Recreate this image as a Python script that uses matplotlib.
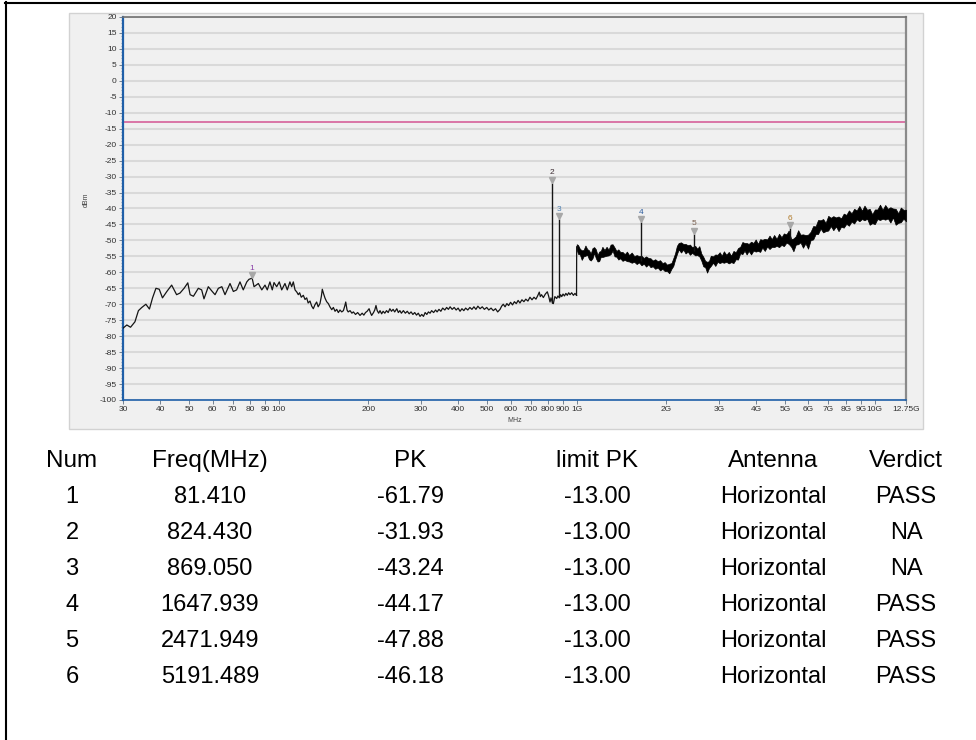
import matplotlib
matplotlib.use("Agg")
import matplotlib.pyplot as plt
import matplotlib.transforms as mtransforms
from matplotlib.patches import Rectangle
from matplotlib.lines import Line2D
from matplotlib.ticker import FixedLocator, NullLocator, MultipleLocator

plt.rcParams["axes.unicode_minus"] = False

# ---- trace readings (MHz, dBm), 30 MHz .. 1 GHz ----
low_freq = [30, 30.9, 31.8, 32.9, 33.8, 34.7, 35.8, 36.8, 37.7, 38.7, 39.7, 40.7,
            42.1, 43.7, 45.4, 46.6, 48.1, 49.5, 50.4, 51.7, 53.7, 55.1, 56.1, 58.0,
            59.8, 61.1, 62.7, 64.4, 66.0, 68.6, 70.4, 72.2, 74.1, 76.0, 78.1, 79.4,
            81.4, 82.6, 85.4, 87.7, 89.9, 91.5, 93.4, 95.1, 96.4, 98.4, 100.4, 102.3,
            104.9, 106.8, 109, 110.5, 111.9, 113.4, 115, 116.3, 117.5, 119, 120.9, 122.5,
            124.1, 125.5, 127.3, 129, 130.6, 132.2, 134, 135.6, 137.5, 139, 140, 141.5,
            143, 144.8, 146.7, 148.5, 150.6, 152.5, 154.5, 156.5, 158.5, 160.5, 162.7, 164.8,
            166.5, 167.8, 169.5, 171, 173.5, 176, 178, 181, 184, 187.4, 190.5, 193,
            195.5, 198, 201, 203, 205, 208, 210, 212, 214, 216.5, 218.7, 221.5,
            224, 227, 230, 233, 236, 239, 242, 245, 249, 252, 255, 258,
            262, 266, 270, 274, 278, 282, 286, 290, 294, 298, 302, 306,
            310, 314, 318, 322, 326, 331, 336, 340, 345, 350, 355, 361,
            366, 371, 376, 382, 388, 394, 400, 406, 412, 418, 424, 431,
            438, 445, 452, 459, 466, 474, 482, 490, 499, 507, 516, 525,
            534, 543, 553, 560, 567, 575, 583, 591, 600, 609, 618, 627,
            636, 645, 655, 665, 675, 686, 697, 708, 719, 730, 741, 749,
            755, 762, 773, 785, 797, 805, 814, 820, 830, 835, 845, 857,
            865, 875, 883, 891, 900, 910, 920, 930, 940, 950, 962, 975, 987, 999]
low_level = [-77.5, -76.5, -77.2, -75.5, -72, -71, -70, -71.5, -68, -65, -65.3, -68,
             -66, -64, -67, -66.5, -65, -63.3, -67, -67.5, -65, -65.5, -68.3, -64.5,
             -66, -67, -65, -64.5, -67, -63.5, -66, -65.5, -63, -65.5, -63, -62.2,
             -61.8, -64.5, -63.5, -65.5, -64, -65.5, -63, -65.5, -63.2, -64.5, -63, -65.5,
             -63.5, -65.5, -63, -64.5, -63, -65.5, -66.2, -67, -66.4, -67.8, -67.2, -68.5,
             -68.0, -69.6, -69.0, -70.6, -71.4, -70.2, -69.3, -70.8, -69.8, -67.5, -65.3, -66.8,
             -68.1, -69.2, -69.8, -70.8, -71.7, -71.0, -72.2, -71.6, -72.6, -71.8, -72.4, -72.0,
             -70.6, -69.3, -71.8, -72.4, -72.0, -72.8, -72.4, -73.2, -72.6, -73.5, -72.8, -73.4,
             -72.6, -72.2, -71.4, -72.6, -73.5, -72.6, -71.8, -70.4, -72.0, -72.8, -72.0, -73.0,
             -72.2, -72.8, -72.0, -72.6, -71.4, -72.2, -71.6, -72.4, -71.4, -72.6, -72.0, -72.8,
             -72.0, -72.8, -72.2, -73.0, -72.4, -73.2, -72.6, -73.4, -72.8, -73.8, -73.2, -73.8,
             -72.6, -73.2, -72.4, -72.8, -72.0, -72.6, -71.8, -72.4, -71.6, -72.2, -71.2, -71.8,
             -71.0, -71.6, -70.8, -71.6, -71.0, -71.8, -71.2, -72.2, -71.4, -72.0, -71.2, -71.8,
             -71.0, -71.6, -70.8, -71.6, -70.6, -71.4, -70.8, -71.6, -71.0, -71.8, -71.2, -72.0,
             -71.4, -72.4, -71.6, -70.6, -70.0, -70.8, -69.8, -70.4, -69.4, -70.2, -69.2, -69.8,
             -68.8, -69.6, -68.6, -69.2, -68.4, -69.0, -67.8, -68.6, -67.8, -68.4, -67.2, -66.2,
             -67.6, -67.0, -67.9, -66.8, -66.1, -67.4, -69.3, -68.0, -69.6, -69.8, -67.6, -68.2,
             -67.4, -68.0, -67.0, -67.6, -66.8, -67.4, -66.6, -67.2, -66.4, -67.0, -66.4, -67.2, -66.6, -67.2]

# ---- trace readings above 1 GHz: centre of the noise band and its half width ----
high_freq = [1000, 1010, 1025, 1040, 1055, 1070, 1085, 1100, 1115, 1130, 1145, 1160,
             1175, 1190, 1205, 1220, 1240, 1260, 1280, 1300, 1320, 1340, 1360, 1380,
             1400, 1425, 1450, 1475, 1500, 1530, 1560, 1590, 1620, 1650, 1680, 1710,
             1740, 1770, 1800, 1835, 1870, 1905, 1940, 1975, 2010, 2045, 2080, 2110,
             2140, 2170, 2200, 2240, 2280, 2320, 2360, 2400, 2440, 2500, 2540, 2580,
             2620, 2660, 2700, 2740, 2780, 2820, 2870, 2920, 2970, 3020, 3070, 3120,
             3180, 3240, 3300, 3360, 3420, 3480, 3540, 3600, 3660, 3720, 3780, 3850,
             3920, 3990, 4060, 4130, 4200, 4280, 4360, 4440, 4520, 4600, 4690, 4780,
             4870, 4960, 5060, 5150, 5250, 5340, 5440, 5540, 5640, 5750, 5860, 5980,
             6100, 6220, 6340, 6460, 6590, 6720, 6850, 6990, 7130, 7270, 7420, 7570,
             7720, 7880, 8040, 8200, 8370, 8540, 8710, 8890, 9070, 9250, 9440, 9630,
             9820, 10020, 10220, 10430, 10640, 10860, 11080, 11300, 11530, 11770, 12010, 12250,
             12500, 12750]
high_level = [-52.0, -52.8, -53.5, -54.6, -54.0, -53.2, -53.6, -54.5, -55.2, -54.0, -53.0, -54.2,
              -55.6, -55.0, -54.2, -53.6, -54.0, -53.4, -53.8, -52.8, -52.2, -53.6, -54.2, -54.4,
              -54.6, -55.0, -55.2, -55.0, -55.6, -55.4, -55.8, -56.0, -55.9, -56.3, -56.4, -56.6,
              -56.5, -57.0, -57.2, -57.4, -57.5, -57.8, -58.0, -58.2, -58.6, -58.8, -58.0, -56.8,
              -55.0, -53.0, -51.8, -52.2, -52.0, -52.6, -52.5, -52.9, -53.0, -53.2, -53.6, -53.4,
              -55.2, -56.6, -57.4, -58.4, -57.6, -56.4, -56.0, -56.2, -55.6, -55.4, -55.8, -55.2,
              -55.6, -55.4, -55.8, -55.2, -54.8, -54.2, -53.0, -52.4, -52.0, -52.6, -52.2, -52.4,
              -52.0, -51.6, -52.2, -51.6, -51.0, -51.4, -50.8, -50.6, -50.8, -50.2, -50.6, -50.0,
              -50.2, -49.8, -49.4, -49.0, -50.8, -51.4, -50.0, -49.0, -49.4, -50.2, -49.6, -50.4,
              -48.6, -47.6, -46.8, -45.8, -45.0, -45.4, -45.8, -44.6, -44.2, -44.6, -44.2, -44.8,
              -44.4, -43.8, -43.4, -43.0, -42.8, -42.4, -42.0, -41.6, -42.0, -41.4, -41.8, -42.6,
              -43.2, -42.6, -41.8, -41.2, -41.8, -41.2, -41.6, -42.0, -41.4, -42.6, -43.0, -42.0,
              -41.8, -42.2]
high_spread = [0.8, 1.4, 0.9, 1.5, 1.0, 1.6, 0.9, 1.4, 1.1, 1.6, 0.9, 1.4,
               1.0, 1.5, 0.9, 1.6, 1.0, 1.4, 0.9, 1.5, 1.0, 1.4, 0.9, 1.6,
               1.0, 1.4, 0.9, 1.5, 1.0, 1.6, 0.9, 1.4, 1.0, 1.5, 0.9, 1.6,
               1.0, 1.4, 0.9, 1.5, 1.0, 1.6, 0.9, 1.4, 1.0, 1.5, 0.9, 1.2,
               1.0, 1.3, 1.0, 1.6, 0.9, 1.5, 1.0, 1.6, 0.9, 1.5, 1.0, 1.6,
               1.1, 1.5, 1.0, 1.7, 1.1, 1.6, 1.0, 1.8, 1.1, 1.7, 1.0, 1.8,
               1.1, 1.8, 1.0, 1.9, 1.1, 1.8, 1.0, 1.9, 1.2, 1.8, 1.1, 2.0,
               1.2, 1.9, 1.1, 2.0, 1.2, 1.9, 1.1, 2.1, 1.2, 1.9, 1.1, 2.1,
               1.2, 2.0, 1.3, 2.1, 1.2, 2.0, 1.3, 2.2, 1.2, 2.1, 1.3, 2.2,
               1.3, 2.1, 1.2, 2.2, 1.3, 2.1, 1.3, 2.3, 1.3, 2.2, 1.4, 2.3,
               1.3, 2.2, 1.4, 2.4, 1.3, 2.3, 1.4, 2.4, 1.3, 2.3, 1.4, 2.5,
               1.4, 2.3, 1.5, 2.4, 1.4, 2.3, 1.5, 2.4, 1.4, 2.5, 1.5, 2.3,
               1.4, 1.8]

limit_level = -13.0

# ---- marker table ----
num = ["1", "2", "3", "4", "5", "6"]
freq_mhz = [81.410, 824.430, 869.050, 1647.939, 2471.949, 5191.489]
pk = [-61.79, -31.93, -43.24, -44.17, -47.88, -46.18]
limit_pk = [-13.00] * 6
antenna = ["Horizontal"] * 6
verdict = ["PASS", "NA", "NA", "PASS", "PASS", "PASS"]
spike_base = [None, -69.5, -67.8, -56.3, -53.2, -49.5]   # trace level under each spike
marker_colors = ["#8a3fa8", "#3a2a30", "#4f80b0", "#2b5a9c", "#7a6050", "#b07a2a"]

x_ticks = [30, 40, 50, 60, 70, 80, 90, 100, 200, 300, 400, 500, 600, 700, 800, 900,
           1000, 2000, 3000, 4000, 5000, 6000, 7000, 8000, 9000, 10000, 12750]
x_labels = ["30", "40", "50", "60", "70", "80", "90", "100", "200", "300", "400", "500",
            "600", "700", "800", "900", "1G", "2G", "3G", "4G", "5G", "6G", "7G", "8G",
            "9G", "10G", "12.75G"]

W, H = 976, 740
fig = plt.figure(figsize=(W / 100, H / 100), dpi=100)


def fx(px):
    return px / W


def fy(py):
    return 1 - py / H


# grey chart panel
fig.patches.append(Rectangle((fx(69), fy(429)), fx(923) - fx(69), fy(13) - fy(429),
                             transform=fig.transFigure, facecolor="#f0f0f0",
                             edgecolor="#d2d2d2", lw=1.0, zorder=-1))

ax = fig.add_axes([fx(123), fy(400), fx(906) - fx(123), fy(17) - fy(400)])
ax.set_zorder(2)
ax.set_facecolor("#f0f0f0")
ax.set_xscale("log")
ax.set_xlim(30, 12750)
ax.set_ylim(-100, 20)

ax.xaxis.set_major_locator(FixedLocator(x_ticks))
ax.xaxis.set_minor_locator(NullLocator())
ax.set_xticklabels(x_labels)
ax.yaxis.set_major_locator(MultipleLocator(5))
ax.yaxis.set_minor_locator(MultipleLocator(1))
ax.tick_params(axis="both", which="major", labelsize=6, length=3, width=0.6,
               color="#607080", labelcolor="#303030", pad=1.5)
ax.tick_params(axis="y", which="minor", length=1.5, width=0.5, color="#8090a0")
for lab in ax.get_xticklabels() + ax.get_yticklabels():
    lab.set_family("Liberation Sans")

ax.yaxis.grid(True, which="major", color="#d9d9d9", lw=1.5)
ax.set_axisbelow(True)

ax.spines["left"].set_color("#1f5fa8")
ax.spines["left"].set_linewidth(1.6)
ax.spines["bottom"].set_color("#1f5fa8")
ax.spines["bottom"].set_linewidth(1.2)
ax.spines["top"].set_color("#707070")
ax.spines["top"].set_linewidth(1.2)
ax.spines["right"].set_color("#8a8a8a")
ax.spines["right"].set_linewidth(1.6)

# limit line
ax.axhline(limit_level, color="#d6609a", lw=1.2, zorder=2)

# trace
ax.plot(low_freq, low_level, color="#151515", lw=0.9, zorder=3)
ax.plot([low_freq[-1], high_freq[0]], [low_level[-1], high_level[0]], color="#151515", lw=0.9, zorder=3)
band_lo = [c - s for c, s in zip(high_level, high_spread)]
band_hi = [c + s for c, s in zip(high_level, high_spread)]
ax.fill_between(high_freq, band_lo, band_hi, color="#000000", lw=0.5, edgecolor="#000000", zorder=3)

# spikes and markers
tri_tf = mtransforms.offset_copy(ax.transData, fig=fig, x=0, y=2.2, units="points")
for i in range(len(num)):
    if spike_base[i] is not None:
        ax.vlines(freq_mhz[i], spike_base[i], pk[i], color="#151515", lw=1.0, zorder=3)
    ax.plot(freq_mhz[i], pk[i], marker="v", ms=4.5, color="#a8a8a8", mec="#a8a8a8",
            transform=tri_tf, zorder=4)
    ax.annotate(num[i], (freq_mhz[i], pk[i]), xytext=(0, 4.5), textcoords="offset points",
                ha="center", va="bottom", fontsize=6, color=marker_colors[i],
                family="Liberation Sans", zorder=5)

fig.text(fx(515), fy(421), "MHz", ha="center", va="center", fontsize=5, color="#404040",
         family="Liberation Sans")
fig.text(fx(86), fy(200), "dBm", ha="center", va="center", fontsize=5, color="#404040",
         rotation=90, family="Liberation Sans")

# table below the chart
headers = ["Num", "Freq(MHz)", "PK", "limit PK", "Antenna", "Verdict"]
col_x = [72, 210, 410, 597, 773, 906]
rows = [[num[i], f"{freq_mhz[i]:.3f}", f"{pk[i]:.2f}", f"{limit_pk[i]:.2f}", antenna[i], verdict[i]]
        for i in range(len(num))]
row_y0, row_step = 461, 36
for j, h in enumerate(headers):
    fig.text(fx(col_x[j]), fy(row_y0), h, ha="center", va="center", fontsize=17.5,
             family="Liberation Sans", color="#000000")
for r, row in enumerate(rows):
    for j, val in enumerate(row):
        fig.text(fx(col_x[j]), fy(row_y0 + row_step * (r + 1)), val, ha="center", va="center",
                 fontsize=17, family="Liberation Sans", color="#000000")

# outer frame (left and top)
fig.add_artist(Line2D([fx(6), fx(6)], [fy(2), 0], transform=fig.transFigure, color="black", lw=1.5))
fig.add_artist(Line2D([fx(5), 1], [fy(3), fy(3)], transform=fig.transFigure, color="black", lw=1.5))

fig.savefig("out.png", dpi=100, facecolor="white")
